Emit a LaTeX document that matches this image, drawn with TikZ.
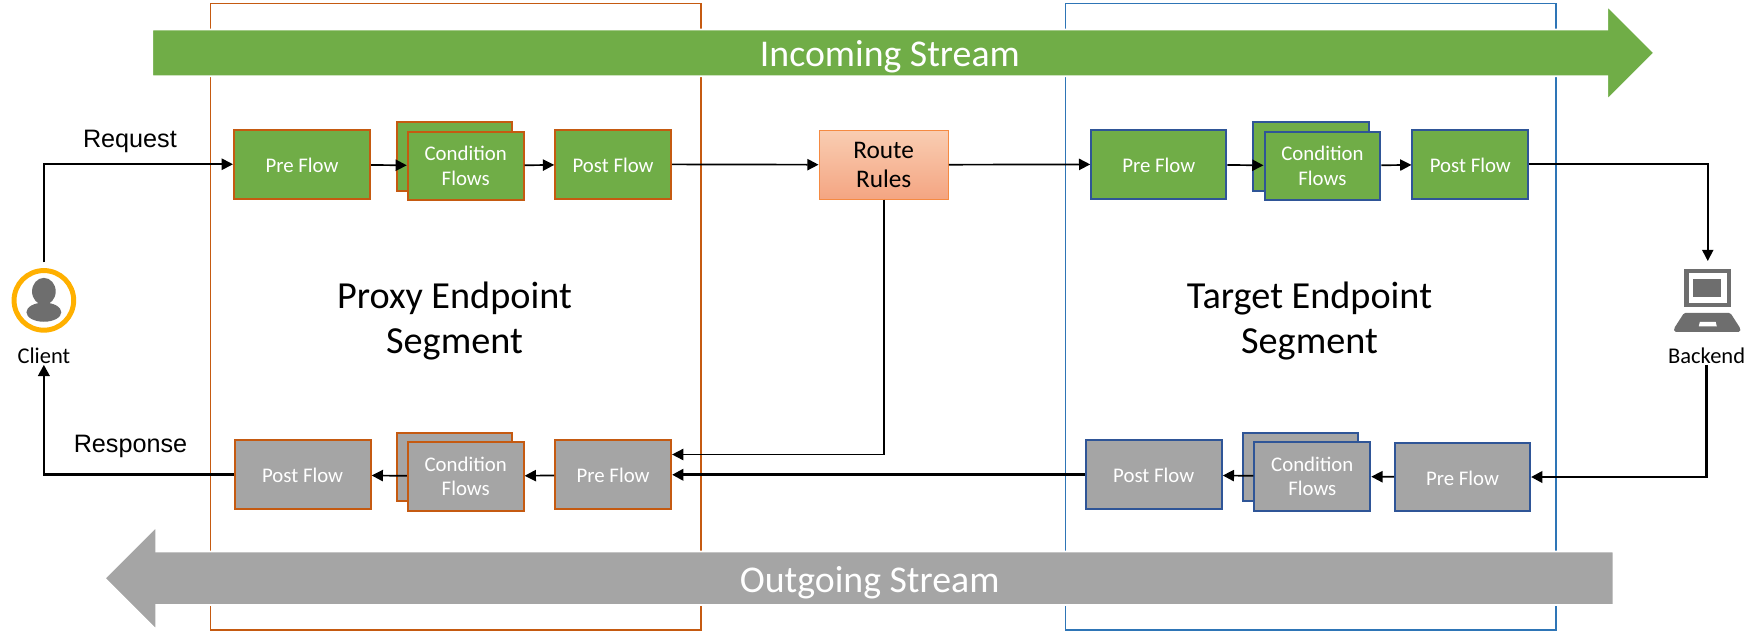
\documentclass[tikz,border=0pt]{standalone}
\usepackage{fontspec}
\setmainfont{Carlito}
\newfontfamily\arialfont{Liberation Sans}
\usetikzlibrary{arrows.meta,shapes.arrows}
\definecolor{flowgreen}{HTML}{70AD47}
\definecolor{flowgrey}{HTML}{A5A5A5}
\definecolor{proxyline}{HTML}{C55A11}
\definecolor{targetline}{HTML}{2E75B6}
\definecolor{targetbox}{HTML}{2F5597}
\definecolor{iconring}{HTML}{FFB000}
\definecolor{icongrey}{HTML}{6E6E6E}
\definecolor{routetop}{HTML}{F9CDB2}
\definecolor{routebottom}{HTML}{F4A582}
\definecolor{routeline}{HTML}{F58A42}
\tikzset{
    flowbox/.style={draw,line width=1.8pt,inner sep=0pt,minimum height=61pt,text=white,font=\fontsize{18.5}{22}\selectfont,align=center},
    wide/.style={minimum width=121pt,text height=14.6pt},
    narrow/.style={minimum width=103pt},
    oneline/.style={text height=14.6pt},
    proxygreen/.style={flowbox,fill=flowgreen,draw=proxyline},
    proxygrey/.style={flowbox,fill=flowgrey,draw=proxyline},
    targetgreen/.style={flowbox,fill=flowgreen,draw=targetbox},
    targetgrey/.style={flowbox,fill=flowgrey,draw=targetbox},
    stream/.style={single arrow,single arrow tip angle=90,single arrow head indent=0pt,inner xsep=0pt,draw=white,line width=1.5pt},
    streamtext/.style={text=white,font=\fontsize{33.6}{36}\selectfont},
    segment/.style={font=\fontsize{34}{40}\selectfont,align=center},
    caption/.style={font=\fontsize{20}{22}\selectfont,inner sep=1pt},
    side/.style={font=\arialfont\fontsize{22.4}{26}\selectfont},
    thin line/.style={draw=black,line width=1.5pt,->},
    thick line/.style={draw=black,line width=2.4pt,->}
}
\begin{document}
\begin{tikzpicture}[x=1pt,y=-1pt,>={Triangle[length=10pt,width=10pt]}]
    \useasboundingbox (0,0) rectangle (1568,565.3);
    \draw[proxyline,line width=1.5pt] (187,3) rectangle (623,560);
    \draw[targetline,line width=1.5pt] (947,3) rectangle (1383,560);
    \node[stream,fill=flowgreen,inner ysep=20pt,minimum height=1335pt,single arrow head extend=21pt] (incoming) at (792.5,47) {};
    \node[stream,fill=flowgrey,shape border rotate=180,inner ysep=23pt,minimum height=1341pt,single arrow head extend=22pt] (outgoing) at (775.5,514) {};
    \node[streamtext] (incomingtext) at (791,50) {Incoming Stream};
    \node[streamtext] (outgoingtext) at (773,518) {Outgoing Stream};
    \node[segment] (proxytext) at (404,285) {Proxy Endpoint\\Segment};
    \node[segment] (targettext) at (1164,285) {Target Endpoint\\Segment};

    \node[proxygreen,wide] (ppre) at (268.5,146) {Pre Flow};
    \node[proxygreen,narrow] (pcondback) at (404,139) {};
    \node[proxygreen,narrow] (pcond) at (414,147.5) {Condition\\Flows};
    \node[proxygreen,narrow,oneline] (ppost) at (545,146) {Post Flow};
    \node[flowbox,minimum width=115pt,draw=routeline,line width=0.8pt,top color=routetop,bottom color=routebottom,text=black,font=\fontsize{22.5}{26}\selectfont] (route) at (785.5,146.5) {Route\\Rules};
    \node[targetgreen,wide,minimum width=120pt] (tpre) at (1030,146) {Pre Flow};
    \node[targetgreen,narrow] (tcondback) at (1165.5,139) {};
    \node[targetgreen,narrow] (tcond) at (1175.5,147.5) {Condition\\Flows};
    \node[targetgreen,narrow,oneline] (tpost) at (1307,146) {Post Flow};

    \node[proxygrey,wide] (rpost) at (269,422) {Post Flow};
    \node[proxygrey,narrow] (rcondback) at (404,415) {};
    \node[proxygrey,narrow] (rcond) at (414,423.5) {Condition\\Flows};
    \node[proxygrey,narrow,oneline] (rpre) at (545,422) {Pre Flow};
    \node[targetgrey,wide] (bpost) at (1025.5,422) {Post Flow};
    \node[targetgrey,narrow] (bcondback) at (1156,415) {};
    \node[targetgrey,narrow] (bcond) at (1166.5,423.5) {Condition\\Flows};
    \node[targetgrey,wide,minimum width=120pt] (bpre) at (1300,424) {Pre Flow};

    \node[circle,draw=iconring,line width=4.4pt,minimum size=53pt,inner sep=0pt,fill=white] (clienticon) at (39,267) {};
    \fill[icongrey] (39,259) ellipse (10.5 and 12);
    \fill[icongrey] (39,277.5) ellipse (15.5 and 8.5);
    \node[caption] (client) at (39,316) {Client};

    \node[draw=icongrey,line width=4pt,fill=white,inner sep=0pt,minimum width=38pt,minimum height=30pt] (laptop) at (1518,256) {};
    \fill[icongrey] (1505,248) rectangle (1530,264);
    \fill[icongrey,rounded corners=1.5pt] (1497,278) -- (1538,278) -- (1547,292) -- (1547,295) -- (1488,295) -- (1488,292) -- cycle;
    \fill[white] (1511,286) -- (1525,286) -- (1526,290) -- (1510,290) -- cycle;
    \node[caption] (backend) at (1517,316) {Backend};

    \node[side] (request) at (115.5,126) {Request};
    \node[side] (response) at (116,397) {Response};

    \draw[thin line,shorten <=5pt] (clienticon.north) |- (ppre.west);
    \draw[thin line] (ppre) -- (pcond);
    \draw[thin line] (pcond) -- (ppost);
    \draw[thin line] (ppost) -- (route);
    \draw[thin line] (route) -- (tpre);
    \draw[thin line] (tpre) -- (tcond);
    \draw[thin line] (tcond) -- (tpost);
    \draw[thin line,shorten >=7pt] (tpost.east) -| (laptop.north);
    \draw[thick line] (backend.south) |- (bpre.east);
    \draw[thin line] (bpre) -- (bcond);
    \draw[thin line] (bcond) -- (bpost);
    \draw[thick line] (bpost.west) -- (rpre.east);
    \draw[thin line] (route.south) |- ([yshift=18pt]rpre.east);
    \draw[thin line] (rpre) -- (rcond);
    \draw[thin line] (rcond) -- (rpost);
    \draw[thick line] (rpost.west) -| (client.south);
\end{tikzpicture}
\end{document}
